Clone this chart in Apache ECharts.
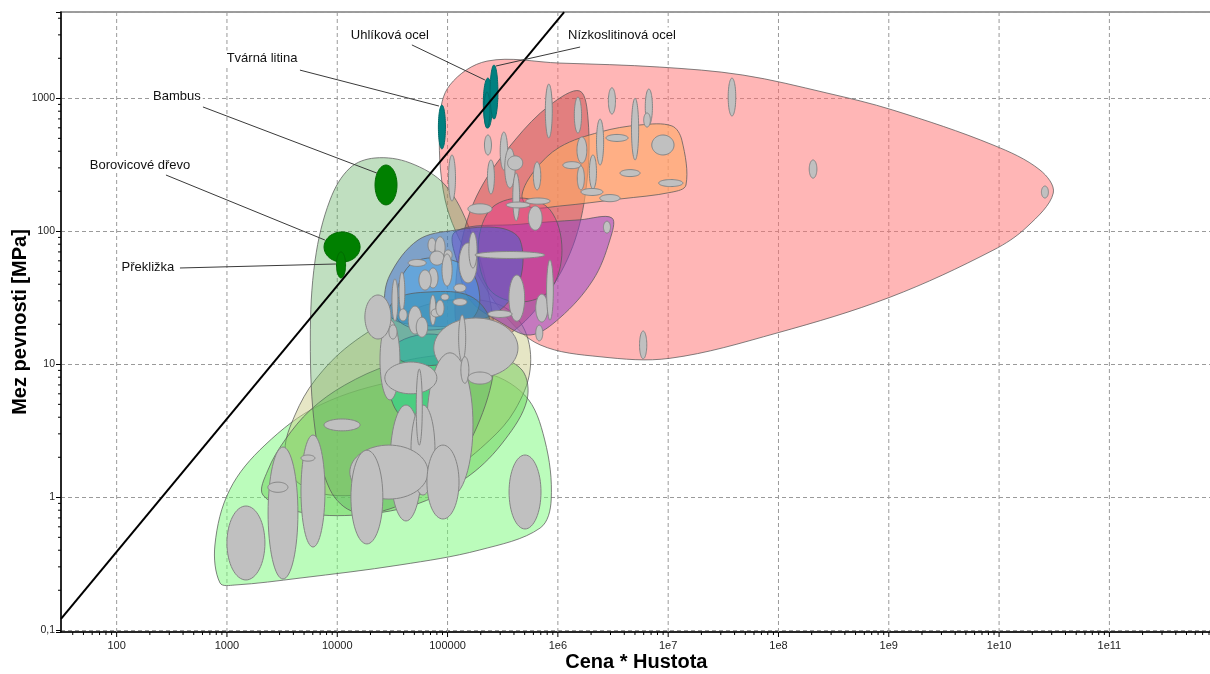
<!DOCTYPE html>
<html>
<head>
<meta charset="utf-8">
<script src="https://cdn.jsdelivr.net/npm/echarts@6/dist/echarts.min.js"></script>
<style>
  html, body { margin: 0; padding: 0; background: #fff; }
  #chart { width: 1210px; height: 674px; }
</style>
</head>
<body>
<div id="chart"></div>
<script>
// ---- axis ranges (Cena * Hustota vs. Mez pevnosti, both logarithmic) ----
const X_MIN = 31.3, X_MAX = 1e12;
const Y_MIN = 0.0971, Y_MAX = 4457;

// ---- tick labels ----
const xTickValues = [100, 1000, 1e4, 1e5, 1e6, 1e7, 1e8, 1e9, 1e10, 1e11];
const xTickLabels = ['100', '1000', '10000', '100000', '1e6', '1e7', '1e8', '1e9', '1e10', '1e11'];
const yTickValues = [0.1, 1, 10, 100, 1000];
const yTickLabels = ['0,1', '1', '10', '100', '1000'];

// ---- material family envelopes: outline vertices [x, y] ----
const envMetals = [[9.5e4,172],[8.5e4,687],[1.05e5,1260],[2.28e5,1905],[1.04e6,1841],[8.4e6,1718],[4.76e7,1496],[2.75e8,1096],[1.09e9,816],[8.8e9,446],[2.35e10,289],[3.1e10,194],[1.79e10,108],[8.8e9,72],[1.03e9,32],[9.7e7,17.2],[1.04e7,11.1],[2.41e6,11.4],[6.9e5,14.0],[3.3e5,23.5],[1.6e5,60.8]];
const envFoams = [[865,0.227],[778,0.438],[1060,1.14],[2210,2.47],[6970,4.94],[3.7e4,7.62],[1.96e5,8.73],[5.0e5,5.87],[7.6e5,2.70],[8.7e5,0.955],[6.9e5,0.587],[1.96e5,0.402],[3.7e4,0.310],[4600,0.247],[1180,0.219]];
const envBeige = [[3360,2.27],[4140,4.16],[6300,7.62],[1.3e4,14.0],[3.7e4,23.5],[1.05e5,30.4],[2.99e5,27.9],[5.0e5,18.1],[5.6e5,9.06],[4.08e5,4.53],[2.42e5,2.70],[1.05e5,1.60],[3.0e4,1.14],[8600,1.04],[4140,1.35]];
const envGreen = [[2120,1.04],[2350,1.60],[3360,2.70],[5700,4.53],[1.17e4,6.98],[3.0e4,9.9],[8.5e4,11.7],[2.42e5,11.7],[4.73e5,9.06],[5.25e5,5.40],[3.3e5,2.70],[1.6e5,1.47],[5.6e4,0.906],[1.61e4,0.740],[4600,0.774]];
const envWoods = [[2.2e4,356],[4.56e4,327],[9.5e4,223],[1.6e5,102],[2.42e5,30.4],[2.69e5,10.8],[1.96e5,3.81],[1.05e5,1.60],[3.7e4,0.875],[1.45e4,0.774],[8600,1.14],[6300,3.21],[5700,15.2],[6300,60.8],[8600,172],[1.3e4,299]];
const envMint = [[3.33e4,14.0],[8.5e4,16.6],[1.29e5,10.8],[1.17e5,5.40],[6.9e4,3.81],[3.7e4,4.16],[2.88e4,7.62]];
const envDarkRed = [[1.58e6,1135],[1.88e6,687],[1.84e6,243],[1.43e6,86],[8.5e5,36.2],[4.08e5,18.1],[1.96e5,14.0],[1.29e5,16.6],[1.17e5,30.4],[1.35e5,86],[1.96e5,205],[4.08e5,485],[8.5e5,891]];
const envOrange = [[4.73e5,187],[6.2e5,289],[1.04e6,430],[2.41e6,558],[5.5e6,630],[1.08e7,620],[1.33e7,485],[1.45e7,223],[1.08e7,197],[3.66e6,175],[1.04e6,155],[5.6e5,152]];
const envPurple = [[1.17e5,98.8],[4.54e5,113],[1.58e6,122],[3.09e6,126],[2.96e6,86],[2.08e6,43],[1.04e6,22.3],[5.6e5,16.6],[2.99e5,20.8],[1.6e5,30.4],[1.24e5,55.8]];
const envMagenta = [[4.54e5,178],[8.5e5,145],[1.09e6,72],[8.5e5,36.2],[4.54e5,29.4],[2.42e5,36.2],[1.89e5,72],[2.42e5,145]];
const envBlue = [[2.7e4,27.9],[3.0e4,46.9],[5.4e4,86],[1.17e5,102],[2.99e5,106],[4.54e5,86],[4.54e5,43],[2.99e5,25.6],[1.29e5,19.7],[5.6e4,19.7],[3.33e4,21.5]];
const envLightBlue = [[3.33e4,30.4],[4.56e4,55.8],[8.5e4,63],[1.6e5,51.2],[1.96e5,30.4],[1.6e5,21.5],[6.9e4,18.1],[3.7e4,20.8]];
const envTealBlue = [[2.7e4,18.1],[3.33e4,30.4],[6.9e4,35],[1.6e5,32.6],[2.42e5,21.5],[2.05e5,12.4],[8.5e4,9.9],[3.7e4,10.8]];

// ---- individual materials: [x low, x high, y low, y high] ----
const grayMaterials = [
  // middle / lower cluster, large ones first
  [7.5e4,4.35e5,7.9,22.3],
  [6.5e4,1.7e5,1.01,12.2],
  [30100,58600,0.664,4.94],
  [46600,76900,1.04,4.94],
  [2.44e4,3.7e4,5.4,21.5],
  [2.7e4,8.0e4,6.0,10.4],
  [5.2e4,5.9e4,2.47,9.2],
  [13000,66500,0.97,2.47],
  [13300,25900,0.446,2.26],
  [65000,127000,0.687,2.47],
  [1000,2210,0.239,0.86],
  [2360,4400,0.243,2.39],
  [2350,3570,1.09,1.30],
  [4690,7740,0.423,2.94],
  [4690,6270,1.87,2.08],
  [7590,16100,3.16,3.88],
  [361000,703000,0.578,2.08],
  [1.78e4,3.07e4,15.5,33.2],
  [1.26e5,1.46e5,10.6,23.5],
  [1.32e5,1.56e5,7.2,11.4],
  [1.53e5,2.53e5,7.1,8.75],
  [3.13e4,3.55e4,21.1,43.8],
  [3.63e4,4.1e4,24.8,49.4],
  [3.63e4,4.3e4,21.2,26.1],
  [4.4e4,5.85e4,16.9,27.4],
  [5.2e4,6.6e4,16,22.6],
  [2.94e4,3.48e4,15.5,19.8],
  [6.65e4,7.85e4,69.8,89],
  [7.7e4,9.5e4,62,91],
  [6.9e4,9.3e4,55.7,71],
  [9.3e4,1.1e5,60.8,72.4],
  [4.4e4,6.4e4,54.5,61.4],
  [1.27e5,1.85e5,40.9,81.7],
  [1.56e5,1.85e5,53,98.6],
  [1.77e5,7.6e5,62.5,70.5],
  [8.9e4,1.1e5,38.8,67.5],
  [6.65e4,8.2e4,37.5,53],
  [5.5e4,7.1e4,36.2,51.2],
  [1.14e5,1.47e5,35,40.2],
  [1.12e5,1.5e5,27.7,31.2],
  [8.7e4,1.03e5,30.4,33.8],
  [6.9e4,7.85e4,19.7,33.2],
  [7.1e4,8.7e4,22.7,26.1],
  [7.85e4,9.3e4,23.1,30.4],
  [3.6e5,5.0e5,21.1,46.9],
  [2.32e5,3.84e5,22.5,25.4],
  [6.3e5,8.1e5,20.8,33.7],
  [7.9e5,9.1e5,21.5,61],
  [6.3e5,7.3e5,15.0,19.7],
  // upper cluster
  [2.16e5,2.5e5,375,530],
  [1.02e5,1.18e5,169,375],
  [3.0e5,3.5e5,289,558],
  [3.3e5,4.1e5,212,423],
  [3.5e5,4.8e5,289,369],
  [2.3e5,2.66e5,191,344],
  [3.9e5,4.5e5,120,274],
  [1.53e5,2.53e5,135,161],
  [3.4e5,5.6e5,150,166],
  [5.1e5,8.5e5,160,178],
  [6.0e5,7.0e5,205,332],
  [5.4e5,7.2e5,102,155],
  [7.7e5,8.9e5,504,1280],
  [1.41e6,1.64e6,548,1020],
  [2.24e6,2.6e6,315,698],
  [2.87e6,3.33e6,762,1200],
  [4.65e6,5.4e6,344,1000],
  [6.2e6,7.2e6,631,1175],
  [6.0e6,6.9e6,608,776],
  [2.73e6,4.33e6,474,535],
  [7.1e6,1.13e7,375,530],
  [3.66e6,5.56e6,258,291],
  [8.2e6,1.36e7,217,245],
  [1.49e6,1.83e6,326,512],
  [1.11e6,1.62e6,296,334],
  [1.5e6,1.74e6,205,310],
  [1.93e6,2.24e6,208,375],
  [1.62e6,2.56e6,186,210],
  [2.4e6,3.66e6,167,189],
  [2.59e6,3.0e6,97,119],
  [3.5e7,4.1e7,736,1420],
  [1.9e8,2.23e8,251,344],
  [2.42e10,2.8e10,178,219],
  [5.5e6,6.4e6,11.0,17.8]
];

// highlighted materials: [x low, x high, y low, y high, colour index]
const highlightColors = ['#008080', '#008000'];
const highlightedMaterials = [
  [82600, 95700, 416, 889, 0],       // Tvárná litina
  [2.11e5, 2.55e5, 598, 1420, 0],    // Uhlíková ocel
  [2.14e5, 2.42e5, 598, 1114, 0],
  [2.43e5, 2.86e5, 698, 1780, 0],    // Nízkoslitinová ocel
  [22000, 34800, 158, 315, 1],       // Bambus
  [7590, 16100, 58.7, 98.9, 1],      // Borovicové dřevo
  [9840, 11900, 44.6, 70, 1]         // Překližka
];

// ---- callouts ----
const calloutLabels = ['Uhlíková ocel', 'Nízkoslitinová ocel', 'Tvárná litina', 'Bambus', 'Borovicové dřevo', 'Překližka'];
const calloutTextAt = [[3.0e4, 2990], [3.81e6, 2990], [2080, 2010], [352, 1040], [163, 315], [192, 53.9]];
const calloutFrom = [[4.75e4, 2520], [1.59e6, 2430], [4590, 1630], [606, 861], [280, 265], [375, 53.0]];
const calloutTo = [[2.18e5, 1374], [2.75e5, 1750], [8.36e4, 875], [2.29e4, 274], [7730, 86], [9730, 56.8]];

// ---- guide line of constant strength / (price * density) ----
const guideLine = [[31.3, 0.122], [1.14e6, 4450]];

// drawing order and fill of the envelopes
const envelopes = [
  { pts: envMetals,    fill: 'rgba(255,110,110,0.5)' },
  { pts: envFoams,     fill: 'rgba(120,250,120,0.5)' },
  { pts: envBeige,     fill: 'rgba(205,205,140,0.5)' },
  { pts: envGreen,     fill: 'rgba(100,205,80,0.45)' },
  { pts: envWoods,     fill: 'rgba(90,170,90,0.38)' },
  { pts: envMint,      fill: 'rgba(40,210,140,0.6)' },
  { pts: envDarkRed,   fill: 'rgba(190,60,60,0.45)' },
  { pts: envOrange,    fill: 'rgba(255,170,100,0.6)' },
  { pts: envPurple,    fill: 'rgba(140,60,200,0.5)' },
  { pts: envMagenta,   fill: 'rgba(225,40,140,0.38)' },
  { pts: envBlue,      fill: 'rgba(60,100,210,0.5)' },
  { pts: envLightBlue, fill: 'rgba(70,170,240,0.45)' },
  { pts: envTealBlue,  fill: 'rgba(40,140,170,0.45)' }
];

// minor ticks at 2..9 of every decade
const xMinorTicks = [];
for (let e = 1; e <= 11; e++) for (let m = 2; m <= 9; m++) {
  const v = m * Math.pow(10, e);
  if (v > X_MIN && v < X_MAX) xMinorTicks.push(v);
}
const yMinorTicks = [];
for (let e = -2; e <= 3; e++) for (let m = 2; m <= 9; m++) {
  const v = m * Math.pow(10, e);
  if (v > Y_MIN && v < Y_MAX) yMinorTicks.push(v);
}

const FONT = '"Liberation Sans", Arial, Helvetica, sans-serif';

function ellipsePolygon(api, lo, hi) {
  const a = api.coord(lo), b = api.coord(hi);
  const cx = (a[0] + b[0]) / 2, cy = (a[1] + b[1]) / 2;
  const rx = Math.abs(b[0] - a[0]) / 2, ry = Math.abs(a[1] - b[1]) / 2;
  const pts = [];
  for (let i = 0; i < 64; i++) {
    const t = (i / 64) * Math.PI * 2;
    pts.push([cx + rx * Math.cos(t), cy + ry * Math.sin(t)]);
  }
  return pts;
}

function tickLabel(values, labels) {
  return function (v) {
    for (let i = 0; i < values.length; i++) {
      if (Math.abs(Math.log10(v) - Math.log10(values[i])) < 1e-6) return labels[i];
    }
    return '';
  };
}

const chart = echarts.init(document.getElementById('chart'), null, { renderer: 'canvas' });

chart.setOption({
  animation: false,
  backgroundColor: '#ffffff',
  grid: {
    left: 61, right: -9.7, top: 12, bottom: 42,
    outerBoundsMode: 'none', containLabel: false,
    show: true, borderColor: '#7d7d7d', borderWidth: 1.5, backgroundColor: 'transparent'
  },
  // vertical axis title
  graphic: [{
    type: 'text', x: 20, y: 322, rotation: Math.PI / 2, silent: true,
    style: { text: 'Mez pevnosti [MPa]', fontFamily: FONT, fontSize: 20, fontWeight: 'bold', fill: '#000',
             align: 'center', verticalAlign: 'middle' }
  }],
  xAxis: {
    type: 'log', logBase: 10, min: X_MIN, max: X_MAX,
    name: 'Cena * Hustota', nameLocation: 'middle', nameGap: 20,
    nameTextStyle: { fontFamily: FONT, fontSize: 20, fontWeight: 'bold', color: '#000', padding: [0, 8, 0, 0] },
    axisLine: { show: true, onZero: false, lineStyle: { color: '#000', width: 1.5 } },
    // decade ticks, labels and grid lines are drawn by the 'xDecades' series below
    axisTick: { show: false },
    axisLabel: { show: false },
    splitLine: { show: false }
  },
  yAxis: {
    type: 'log', logBase: 10, min: Y_MIN, max: Y_MAX, splitNumber: 5,
    axisLine: { show: true, onZero: false, lineStyle: { color: '#000', width: 1.5 } },
    axisTick: { show: true, length: 5, lineStyle: { color: '#000', width: 1 } },
    axisLabel: { fontFamily: FONT, fontSize: 10.5, color: '#222', margin: 6, formatter: tickLabel(yTickValues, yTickLabels) },
    splitLine: { show: true, lineStyle: { color: '#9a9a9a', type: [4, 3], width: 1 } }
  },
  series: [
    {
      // decade grid lines, ticks and labels of the x axis
      id: 'xDecades', type: 'custom', z: 1, silent: true, clip: false,
      data: xTickValues.map((v, i) => [v, Y_MIN, i]),
      encode: { x: 0, y: 1 },
      renderItem: function (params, api) {
        const i = api.value(2);
        const p0 = api.coord([xTickValues[i], Y_MIN]);
        const p1 = api.coord([xTickValues[i], Y_MAX]);
        return {
          type: 'group',
          children: [
            { type: 'line', shape: { x1: p0[0], y1: p0[1], x2: p1[0], y2: p1[1] },
              style: { stroke: '#9a9a9a', lineWidth: 1, lineDash: [4, 3] } },
            { type: 'line', shape: { x1: p0[0], y1: p0[1], x2: p0[0], y2: p0[1] + 5 },
              style: { stroke: '#000', lineWidth: 1 } },
            { type: 'text', x: p0[0], y: p0[1] + 8,
              style: { text: xTickLabels[i], fontFamily: FONT, fontSize: 11, fill: '#222',
                       align: 'center', verticalAlign: 'top' } }
          ]
        };
      }
    },
    {
      type: 'custom', z: 2, silent: true, clip: false,
      data: envelopes.map((e, i) => [e.pts[0][0], e.pts[0][1], i]),
      encode: { x: 0, y: 1 },
      renderItem: function (params, api) {
        const env = envelopes[api.value(2)];
        return {
          type: 'polygon',
          shape: { points: env.pts.map(p => api.coord(p)), smooth: 0.35 },
          style: { fill: env.fill, stroke: 'rgba(90,90,90,0.75)', lineWidth: 1 }
        };
      }
    },
    {
      type: 'custom', z: 3, silent: true, clip: false,
      data: grayMaterials,
      encode: { x: [0, 1], y: [2, 3] },
      renderItem: function (params, api) {
        return {
          type: 'polygon',
          shape: { points: ellipsePolygon(api, [api.value(0), api.value(2)], [api.value(1), api.value(3)]) },
          style: { fill: '#c0c0c0', stroke: '#858585', lineWidth: 1 }
        };
      }
    },
    {
      type: 'custom', z: 4, silent: true, clip: false,
      data: highlightedMaterials,
      encode: { x: [0, 1], y: [2, 3] },
      renderItem: function (params, api) {
        const c = highlightColors[api.value(4)];
        return {
          type: 'polygon',
          shape: { points: ellipsePolygon(api, [api.value(0), api.value(2)], [api.value(1), api.value(3)]) },
          style: { fill: c, stroke: c === '#008080' ? '#006b6b' : '#006a00', lineWidth: 1 }
        };
      }
    },
    {
      type: 'line', z: 5, silent: true, symbol: 'none',
      data: guideLine,
      lineStyle: { color: '#000', width: 2 }
    },
    {
      type: 'custom', z: 6, silent: true, clip: false,
      data: calloutLabels.map((t, i) => [calloutTextAt[i][0], calloutTextAt[i][1], i]),
      encode: { x: 0, y: 1 },
      renderItem: function (params, api) {
        const i = api.value(2);
        const s = api.coord(calloutFrom[i]), e = api.coord(calloutTo[i]), t = api.coord(calloutTextAt[i]);
        return {
          type: 'group',
          children: [
            { type: 'line', shape: { x1: s[0], y1: s[1], x2: e[0], y2: e[1] },
              style: { stroke: '#3a3a3a', lineWidth: 1 } },
            { type: 'text', x: t[0], y: t[1], z2: 10,
              style: { text: calloutLabels[i], fontFamily: FONT, fontSize: 13, fill: '#111',
                       align: 'center', verticalAlign: 'middle', backgroundColor: '#fff', padding: [1, 2] } }
          ]
        };
      }
    },
    {
      type: 'custom', z: 6, silent: true, clip: false,
      data: xMinorTicks.map(v => [v, Y_MIN, 0]).concat(yMinorTicks.map(v => [X_MIN, v, 1])),
      encode: { x: 0, y: 1 },
      renderItem: function (params, api) {
        const p = api.coord([api.value(0), api.value(1)]);
        const horiz = api.value(2) === 0;
        return {
          type: 'line',
          shape: horiz ? { x1: p[0], y1: p[1], x2: p[0], y2: p[1] + 3 }
                       : { x1: p[0] - 3, y1: p[1], x2: p[0], y2: p[1] },
          style: { stroke: '#000', lineWidth: 1 }
        };
      }
    }
  ]
});
</script>
</body>
</html>
